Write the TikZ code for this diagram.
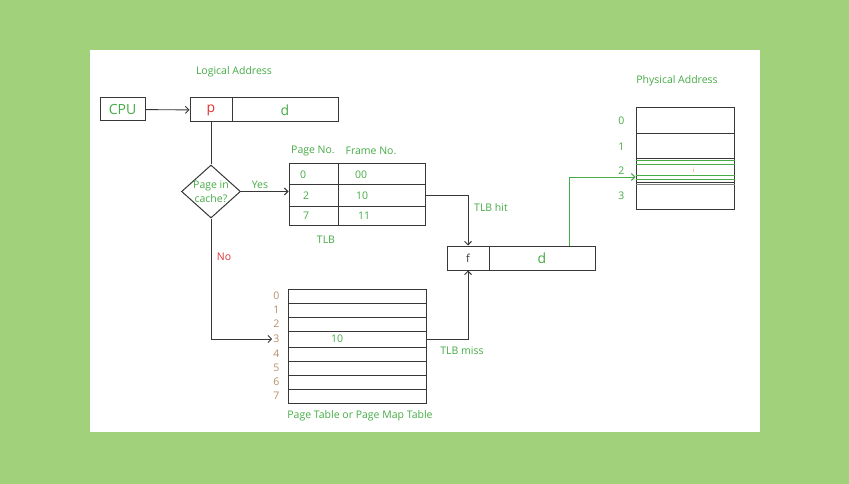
\documentclass[tikz,border=0pt]{standalone}
\usepackage{fontspec}
\setmainfont{Open Sans}
\usetikzlibrary{shapes.geometric,arrows.meta}
\definecolor{bggreen}{RGB}{161,210,123}
\definecolor{txtgreen}{RGB}{70,172,70}
\definecolor{txtred}{RGB}{222,52,52}
\definecolor{idxbrown}{RGB}{184,144,106}
\definecolor{linegray}{RGB}{55,55,55}
\tikzset{
  cell/.style={draw=linegray, line width=1pt, inner sep=0pt},
  lbl/.style={text=txtgreen, font=\fontsize{10.5}{12}\selectfont, inner sep=1pt},
  bigtxt/.style={font=\fontsize{14}{16}\selectfont},
  tlbkey/.style={cell, lbl, minimum width=49pt, text width=27pt, inner xsep=11pt, align=left},
  tlbval/.style={cell, lbl, minimum width=87pt, text width=53pt, inner xsep=17pt, align=left},
  ptrow/.style={cell, minimum width=138pt, minimum height=14pt},
  memrow/.style={cell, minimum width=98pt},
  link/.style={draw=linegray, line width=0.9pt, -{Straight Barb[length=3.5pt,width=7pt]}},
}
\begin{document}
\begin{tikzpicture}[x=1pt,y=-1pt]
  \fill[bggreen] (0,0) rectangle (849,484);
  \fill[white] (90,50) rectangle (760,432);
  \useasboundingbox (0,0) rectangle (849,484);
  % logical address
  \node[lbl] (logical) at (234,72) {Logical Address};
  \node[cell, bigtxt, text=txtgreen, minimum width=45pt, minimum height=23pt] (cpu) at (122.5,109.5) {CPU};
  \node[cell, bigtxt, text=txtred, minimum width=42pt, minimum height=24pt] (lp) at (211,110) {p};
  \node[cell, bigtxt, text=txtgreen, minimum width=106pt, minimum height=24pt] (ld) at (285,110) {d};
  \node[cell, diamond, minimum width=59pt, minimum height=53pt,
    label={[lbl, align=center, font=\fontsize{10.5}{13.5}\selectfont]center:{Page in\\cache?}}] (incache) at (211,191.5) {};
  % TLB
  \node[lbl] (hpage) at (313,151) {Page No.};
  \node[lbl] (hframe) at (371,151) {Frame No.};
  \node[tlbkey, minimum height=21pt] (tlbp0) at (313.5,174.5) {0};
  \node[tlbval, minimum height=21pt] (tlbf0) at (381.5,174.5) {00};
  \node[tlbkey, minimum height=21pt, inner xsep=14pt, text width=21pt] (tlbp1) at (313.5,195.5) {2};
  \node[tlbval, minimum height=21pt, inner xsep=18pt, text width=51pt] (tlbf1) at (381.5,195.5) {10};
  \node[tlbkey, minimum height=19pt, inner xsep=14pt, text width=21pt] (tlbp2) at (313.5,215.5) {7};
  \node[tlbval, minimum height=19pt, inner xsep=20pt, text width=47pt] (tlbf2) at (381.5,215.5) {11};
  \node[lbl] (tlbname) at (326,240) {TLB};
  % physical address
  \node[cell, text=linegray, font=\fontsize{11}{13}\selectfont, minimum width=42pt, minimum height=24pt] (pf) at (468,258) {f};
  \node[cell, bigtxt, text=txtgreen, minimum width=106pt, minimum height=24pt] (pd) at (542,258) {d};
  \node[lbl] (hit) at (491,208) {TLB hit};
  % memory
  \node[lbl] (physical) at (677,81) {Physical Address};
  \begin{scope}[every label/.style={lbl}, label distance=10pt]
    \node[memrow, minimum height=26pt, label=left:0] (mem0) at (685,121) {};
    \node[memrow, minimum height=25pt, label=left:1] (mem1) at (685,146.5) {};
    \node[memrow, minimum height=24pt, label=left:2] (mem2) at (685,171) {};
    \node[memrow, minimum height=26pt, label=left:3] (mem3) at (685,196) {};
  \end{scope}
  \foreach \dy in {2,6,17,21}
    \draw[txtgreen, line width=0.8pt] ([yshift=-\dy pt]mem2.north west) -- ([yshift=-\dy pt]mem2.north east);
  \draw[gray, line width=1.6pt] ([yshift=-1pt]mem2.south west) -- ([yshift=-1pt]mem2.south east);
  \node[text=orange, font=\fontsize{6}{7}\selectfont, inner sep=0pt] (offset) at (694,170) {i};
  % page table
  \begin{scope}[every label/.style={text=idxbrown, font=\fontsize{10.5}{12}\selectfont, inner sep=1pt}, label distance=7pt]
    \node[ptrow, label=left:0] (pt0) at (357,296) {};
    \node[ptrow, label=left:1] (pt1) at (357,310) {};
    \node[ptrow, label=left:2] (pt2) at (357,324) {};
    \node[ptrow, minimum height=16pt, lbl, text width=52pt, inner xsep=43pt, align=left,
      label={[name=ptl3]left:3}] (pt3) at (357,339) {10};
    \node[ptrow, label=left:4] (pt4) at (357,354) {};
    \node[ptrow, label=left:5] (pt5) at (357,368) {};
    \node[ptrow, label=left:6] (pt6) at (357,382) {};
    \node[ptrow, label=left:7] (pt7) at (357,396) {};
  \end{scope}
  \node[lbl] (ptname) at (360,416) {Page Table or Page Map Table};
  \node[lbl] (miss) at (462,351) {TLB miss};
  \node[lbl] (yes) at (260,185) {Yes};
  \node[lbl, text=txtred] (no) at (224,257) {No};
  % connectors
  \begin{scope}[link]
    \draw (cpu) to (lp);
    \draw[-] (lp.south) to (incache.north);
    \draw (incache.east) to (incache.east -| tlbp1.west);
    \draw (tlbf1.east) -| (pf.north);
    \draw (incache.south) |- (ptl3.west);
    \draw (pt3.east) -| (pf.south);
    \draw[draw=txtgreen] ([xshift=27pt]pd.north) |- ([yshift=-6pt]mem2.west);
  \end{scope}
\end{tikzpicture}
\end{document}
